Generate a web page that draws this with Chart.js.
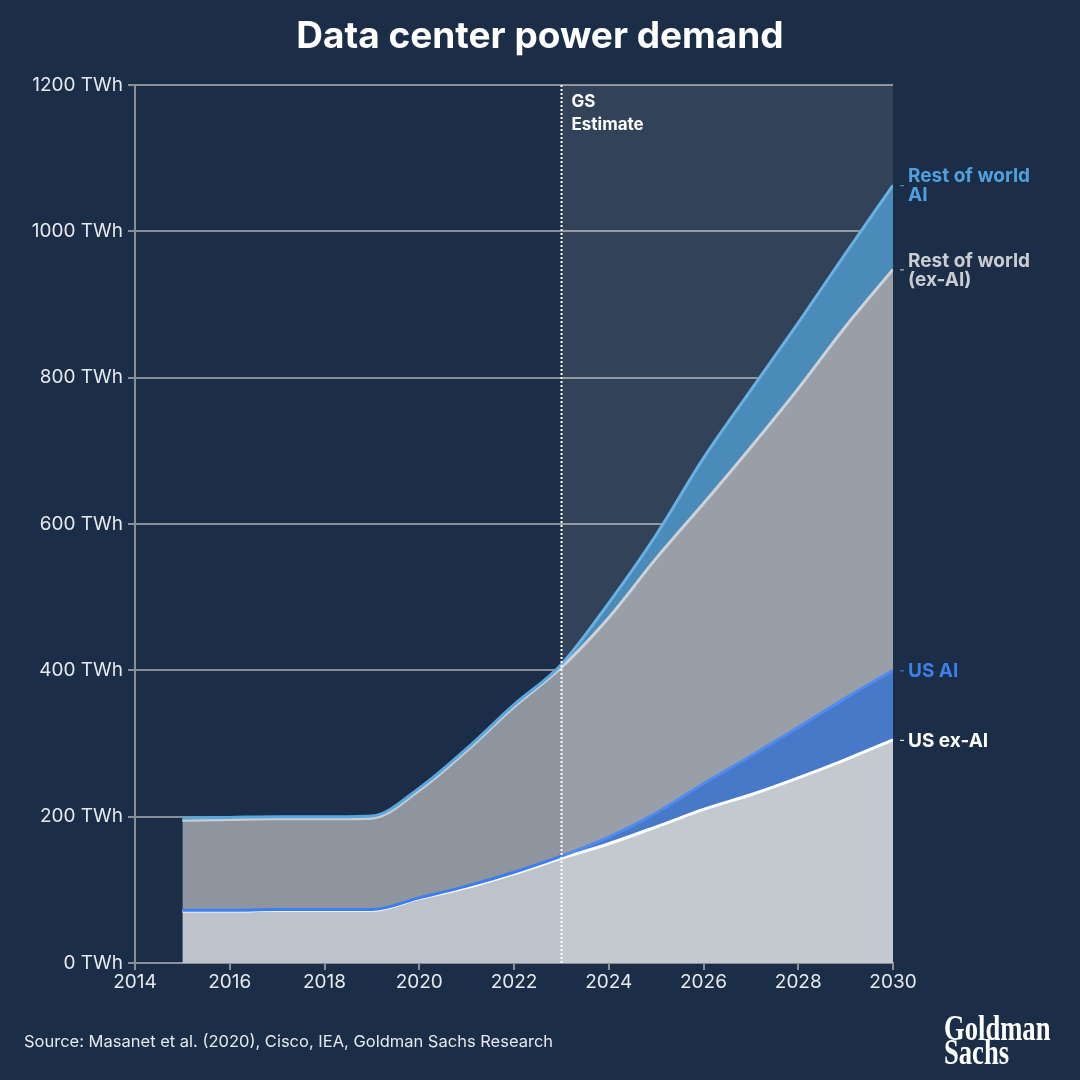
<!DOCTYPE html>
<html>
<head>
<meta charset="utf-8">
<script src="https://cdn.jsdelivr.net/npm/chart.js@4"></script>
<style>
  html, body { margin: 0; padding: 0; background: #1b2d47; }
  #wrap { width: 1080px; height: 1080px; }
</style>
</head>
<body>
<div id="wrap"><canvas id="myChart" width="1080" height="1080"></canvas></div>
<script>
// years and values (TWh)
const years = [2015, 2016, 2017, 2018, 2019, 2020, 2021, 2022, 2023, 2024, 2025, 2026, 2027, 2028, 2029, 2030];
const usExAI   = [71, 71, 72, 72, 72, 88, 103, 122, 143, 163, 186, 210, 230, 253, 278, 305];
const usAI     = [1, 1, 1, 1, 1, 1, 2, 2, 3, 9, 19, 35, 53, 69, 84, 95];
const rowExAI  = [123, 124, 124, 124, 125, 147, 185, 226, 258, 300, 348, 383, 422, 463, 508, 548];
const rowAI    = [3, 3, 3, 3, 3, 3, 3, 3, 4, 20, 32, 62, 78, 90, 100, 115];
const yTicks   = [0, 200, 400, 600, 800, 1000, 1200];
const xTicks   = [2014, 2016, 2018, 2020, 2022, 2024, 2026, 2028, 2030];
const estimateStart = 2023;

const seriesNames = ["US ex-AI", "US AI", "Rest of world\n(ex-AI)", "Rest of world\nAI"];
const lineColors  = ["#ffffff", "#3b7ef0", "#c9ccd1", "#58a8e0"];
const fillColors  = ["#bec3cb", "#3469c2", "#8f959e", "#367eb2"];
const labelColors = ["#ffffff", "#3f7fe6", "#c9ccd1", "#4fa0dc"];

const FONT = "Inter, 'Noto Sans', sans-serif";

const allSeries = [usExAI, usAI, rowExAI, rowAI];

// filled bands (stacked)
const areaSets = allSeries.map((s, i) => ({
    label: seriesNames[i],
    data: s.map((v, k) => ({ x: years[k], y: v })),
    borderWidth: 0,
    backgroundColor: fillColors[i],
    pointRadius: 0,
    cubicInterpolationMode: 'monotone',
    stack: 'area',
    order: 10,
    fill: i === 0 ? 'origin' : '-1'
}));

// top edge of each band, drawn over the fills, upper series on top
const lineSets = allSeries.map((s, i) => ({
    label: seriesNames[i] + ' line',
    data: s.map((v, k) => ({ x: years[k], y: allSeries.slice(0, i + 1).reduce((a, b) => a + b[k], 0) })),
    borderColor: lineColors[i],
    borderWidth: 3,
    pointRadius: 0,
    cubicInterpolationMode: 'monotone',
    stack: 'line' + i,
    order: -1 - i,
    fill: false
}));

// overlay for the estimate period + dotted line + texts
const decor = {
    id: 'decor',
    afterDatasetsDraw(chart) {
        const { ctx, chartArea, scales } = chart;
        const x0 = scales.x.getPixelForValue(estimateStart);
        const x1 = scales.x.getPixelForValue(2030);
        ctx.save();
        ctx.fillStyle = 'rgba(255,255,255,0.1)';
        ctx.fillRect(x0, chartArea.top, x1 - x0, chartArea.bottom - chartArea.top);
        ctx.restore();
    },
    afterDraw(chart) {
        const { ctx, chartArea, scales } = chart;
        const x0 = Math.round(scales.x.getPixelForValue(estimateStart)) + 0.5;
        ctx.save();
        // dotted line
        ctx.strokeStyle = '#ffffff';
        ctx.lineWidth = 2;
        ctx.setLineDash([2, 2]);
        ctx.beginPath();
        ctx.moveTo(x0, chartArea.top);
        ctx.lineTo(x0, chartArea.bottom);
        ctx.stroke();
        ctx.setLineDash([]);

        ctx.fillStyle = '#ffffff';
        ctx.font = "bold 17px " + FONT;
        ctx.textAlign = 'left';
        ctx.textBaseline = 'middle';
        ctx.fillText('GS', x0 + 10, 102);
        ctx.fillText('Estimate', x0 + 10, 125);

        // title
        ctx.textAlign = 'center';
        ctx.font = "bold 37px " + FONT;
        ctx.fillText('Data center power demand', 540, 37);

        // right side labels
        const lastX = scales.x.getPixelForValue(2030);
        let cum = 0;
        allSeries.forEach((s, i) => {
            cum += s[s.length - 1];
            const y = scales.y.getPixelForValue(cum);
            ctx.strokeStyle = labelColors[i];
            ctx.lineWidth = 1;
            ctx.beginPath();
            ctx.moveTo(lastX + 7, y + 0.5);
            ctx.lineTo(lastX + 11, y + 0.5);
            ctx.stroke();
            const lines = seriesNames[i].split('\n');
            ctx.fillStyle = labelColors[i];
            ctx.font = "bold 19px " + FONT;
            ctx.textAlign = 'left';
            const lh = 19;
            const top = y - (lines.length - 1) * lh / 2 + 1;
            lines.forEach((t, k) => ctx.fillText(t, lastX + 15, top + k * lh));
        });

        // source
        ctx.fillStyle = '#e6e9ee';
        ctx.font = "16.5px " + FONT;
        ctx.textAlign = 'left';
        ctx.fillText('Source: Masanet et al. (2020), Cisco, IEA, Goldman Sachs Research', 24, 1042);

        // logo
        ctx.fillStyle = '#ffffff';
        ctx.font = "bold 35px 'Liberation Serif', 'DejaVu Serif', serif";
        ctx.textBaseline = 'alphabetic';
        ctx.save();
        ctx.translate(944, 0);
        ctx.scale(0.76, 1);
        ctx.fillText('Goldman', 0, 1040);
        ctx.fillText('Sachs', 0, 1064);
        ctx.restore();
        ctx.restore();
    }
};

new Chart("myChart", {
    type: "line",
    data: { datasets: areaSets.concat(lineSets) },
    options: {
        responsive: false,
        animation: false,
        layout: { padding: { top: 85, right: 187, bottom: 77, left: 0 } },
        plugins: {
            legend: { display: false },
            title: { display: false },
            tooltip: { enabled: false }
        },
        scales: {
            x: {
                type: 'linear',
                min: 2014,
                max: 2030,
                z: 1,
                afterFit(scale) { scale.height = 40; },
                afterBuildTicks(scale) { scale.ticks = xTicks.map(v => ({ value: v })); },
                grid: {
                    drawOnChartArea: false,
                    drawTicks: true,
                    tickLength: 7,
                    color: '#8a8f97',
                    lineWidth: 2
                },
                border: { color: '#8a8f97', width: 2 },
                ticks: {
                    color: '#e6e9ee',
                    font: { family: FONT, size: 19 },
                    padding: 1,
                    maxRotation: 0,
                    callback: v => String(v)
                }
            },
            y: {
                stacked: true,
                min: 0,
                max: 1200,
                z: 1,
                afterFit(scale) { scale.width = 135; },
                afterBuildTicks(scale) { scale.ticks = yTicks.map(v => ({ value: v })); },
                grid: {
                    color: '#8a8f97',
                    lineWidth: 2,
                    tickLength: 7
                },
                border: { color: '#8a8f97', width: 2 },
                ticks: {
                    color: '#e6e9ee',
                    font: { family: FONT, size: 19 },
                    padding: 5,
                    callback: v => v + ' TWh'
                }
            }
        }
    },
    plugins: [decor]
});
</script>
</body>
</html>
